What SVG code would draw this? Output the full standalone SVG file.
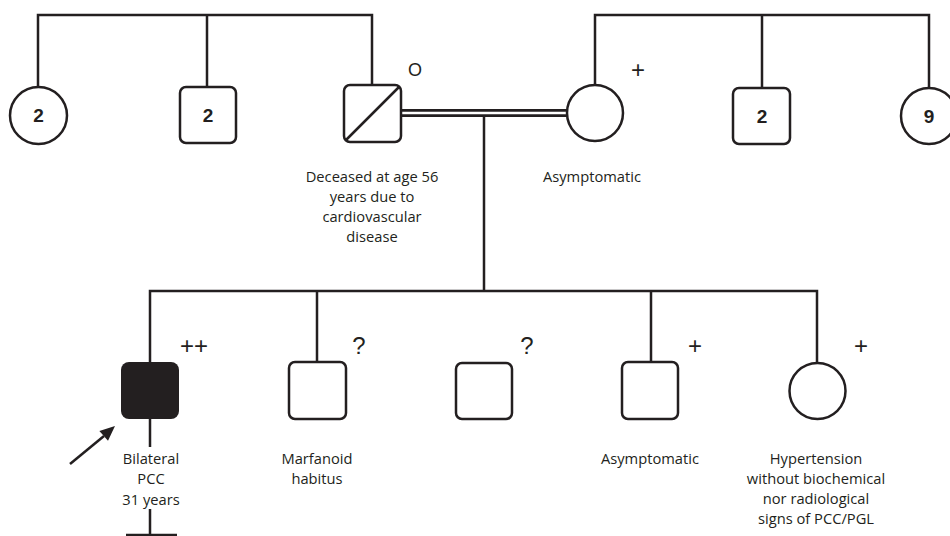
<svg xmlns="http://www.w3.org/2000/svg" width="950" height="536" viewBox="0 0 950 536">
<style>
.ln{fill:none;stroke:#231f20;stroke-width:2.5}
.sh{fill:#fff;stroke:#231f20;stroke-width:2.5}
.num{font-family:"Liberation Sans",Arial,sans-serif;font-weight:bold;font-size:19px;fill:#231f20;text-anchor:middle}
.lbl{font-family:"Open Sans","Liberation Sans",sans-serif;font-size:14.7px;fill:#231f20;text-anchor:middle}
.sym{font-family:"Liberation Sans",Arial,sans-serif;font-size:24px;fill:#231f20;text-anchor:middle}
.o{font-family:"Liberation Sans",Arial,sans-serif;font-size:18px;fill:#231f20;text-anchor:middle}
</style>
<rect width="950" height="536" fill="#fff"/>
<g id="connectors">
<path class="ln" d="M38,87 V15 H372 V85 M207,15 V87"/>
<path class="ln" d="M595,85 V15 H929 V88 M762,15 V88"/>
<path d="M401,113 H567" stroke="#231f20" stroke-width="8" fill="none"/>
<path d="M401,113 H567" stroke="#fff" stroke-width="2.4" fill="none"/>
<path class="ln" d="M484,117 V291 M150,362 V291 H817 V363 M317,291 V362 M651,291 V362"/>
<path class="ln" d="M150,419 V447 M150,509 V536 M126,535 H177"/>
<path d="M70,464 L104,436" stroke="#231f20" stroke-width="2.5" fill="none"/>
<polygon points="115,426 108,440.7 99.4,430.9" fill="#231f20"/>
</g>
<g id="gp-left-f"><circle class="sh" cx="38.5" cy="115.5" r="28.5"/><text class="num" x="38.5" y="122">2</text></g>
<g id="gp-left-m"><rect class="sh" x="180" y="87" width="56" height="56" rx="6"/><text class="num" x="208" y="122">2</text></g>
<g id="father"><rect class="sh" x="344" y="85" width="57" height="57" rx="6"/><path class="ln" d="M346,140 L399,87"/>
<text class="o" x="415" y="76">O</text>
<text class="lbl" x="372" y="182">Deceased at age 56</text><text class="lbl" x="372" y="202">years due to</text><text class="lbl" x="372" y="222">cardiovascular</text><text class="lbl" x="372" y="242">disease</text></g>
<g id="mother"><circle class="sh" cx="595" cy="113" r="28"/><text class="sym" x="638" y="78">+</text><text class="lbl" x="592" y="182">Asymptomatic</text></g>
<g id="gp-right-m"><rect class="sh" x="733" y="88" width="57" height="56" rx="6"/><text class="num" x="762" y="123">2</text></g>
<g id="gp-right-f"><circle class="sh" cx="929" cy="116" r="28"/><text class="num" x="929" y="123">9</text></g>
<g id="proband"><rect x="121" y="362" width="58" height="57" rx="8" fill="#231f20"/><text class="sym" x="194" y="354">++</text>
<text class="lbl" x="151" y="464">Bilateral</text><text class="lbl" x="151" y="484">PCC</text><text class="lbl" x="151" y="505">31 years</text></g>
<g id="sib2"><rect class="sh" x="289" y="362" width="57" height="57" rx="6"/><text class="sym" x="359" y="354">?</text>
<text class="lbl" x="317" y="464">Marfanoid</text><text class="lbl" x="317" y="484">habitus</text></g>
<g id="sib3"><rect class="sh" x="456" y="363" width="56" height="56" rx="6"/><text class="sym" x="527" y="354">?</text></g>
<g id="sib4"><rect class="sh" x="622" y="362" width="56" height="57" rx="6"/><text class="sym" x="695" y="354">+</text>
<text class="lbl" x="650" y="464">Asymptomatic</text></g>
<g id="sib5"><circle class="sh" cx="817.5" cy="391" r="28"/><text class="sym" x="861" y="354">+</text>
<text class="lbl" x="816" y="464">Hypertension</text><text class="lbl" x="816" y="484">without biochemical</text><text class="lbl" x="816" y="504">nor radiological</text><text class="lbl" x="816" y="524">signs of PCC/PGL</text></g>
</svg>
